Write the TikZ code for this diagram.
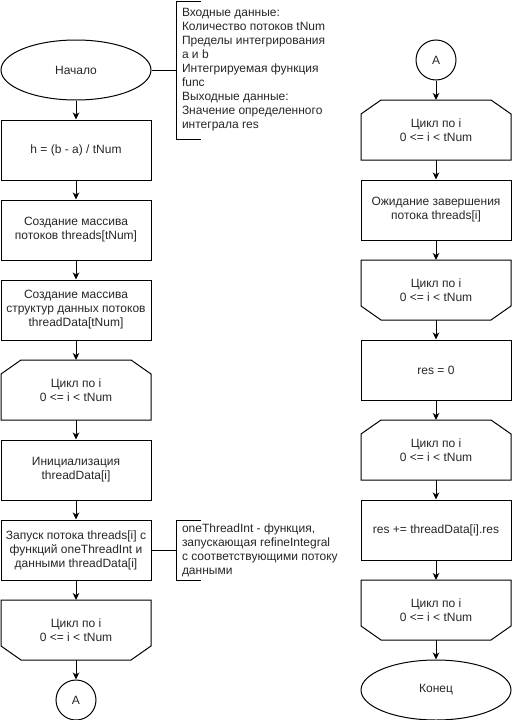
\documentclass[tikz,border=0pt]{standalone}
\usepackage{fontspec}
\setmainfont{Liberation Sans}
\usetikzlibrary{arrows.meta,calc,shapes.geometric}
\tikzset{
  lw/.style={line width=1pt},
  txt/.style={font=\fontsize{12}{14}\selectfont, align=center, text=black!85},
  proc/.style={txt, draw, lw, minimum width=150pt, minimum height=60pt, inner sep=0pt},
  loopbox/.style={txt, minimum width=150pt, minimum height=60pt, inner sep=0pt, outer sep=0pt},
  term/.style={txt, draw, lw, ellipse, minimum width=150pt, minimum height=60pt, inner sep=0pt},
  conn/.style={txt, draw, lw, circle, minimum size=40pt, inner sep=0pt},
  note/.style={txt, align=left, inner xsep=6pt, inner ysep=0pt, outer sep=0pt, anchor=west},
  arr/.style={lw, -{Stealth[length=7pt,width=6.5pt,inset=2pt]}}
}
\newcommand\loopopen[1]{\draw[lw] ($(#1.north west)+(20,0)$) -- ($(#1.north east)+(-20,0)$) -- ($(#1.north east)+(0,14)$) -- (#1.south east) -- (#1.south west) -- ($(#1.north west)+(0,14)$) -- cycle;}
\newcommand\loopclose[1]{\draw[lw] (#1.north west) -- (#1.north east) -- ($(#1.south east)+(0,-14)$) -- ($(#1.south east)+(-20,0)$) -- ($(#1.south west)+(20,0)$) -- ($(#1.south west)+(0,-14)$) -- cycle;}
\begin{document}
\begin{tikzpicture}[x=1pt,y=-1pt]
\useasboundingbox (0,0) rectangle (512,720);
% left column
\node[term] (start) at (76,70) {Начало};
\node[proc] (h) at (76,150) {h = (b - a) / tNum};
\node[proc] (arr1) at (76,230) {Создание массива\\потоков threads[tNum]};
\node[proc] (arr2) at (76,310) {Создание массива\\структур данных потоков\\threadData[tNum]};
\node[loopbox] (L1) at (76,390) {Цикл по i\\0 <= i < tNum};
\node[proc] (init) at (76,470) {Инициализация\\threadData[i]};
\node[proc] (run) at (76,550) {Запуск потока threads[i] с\\функций oneThreadInt и\\данными threadData[i]};
\node[loopbox] (L1e) at (76,630) {Цикл по i\\0 <= i < tNum};
\node[conn] (A1) at (76,700) {A};
\loopopen{L1}
\loopclose{L1e}
% right column
\node[conn] (A2) at (436,60) {A};
\node[loopbox] (L2) at (436,130) {Цикл по i\\0 <= i < tNum};
\node[proc] (wait) at (436,210) {Ожидание завершения\\потока threads[i]};
\node[loopbox] (L2e) at (436,290) {Цикл по i\\0 <= i < tNum};
\node[proc] (res0) at (436,370) {res = 0};
\node[loopbox] (L3) at (436,450) {Цикл по i\\0 <= i < tNum};
\node[proc] (acc) at (436,530) {res += threadData[i].res};
\node[loopbox] (L3e) at (436,610) {Цикл по i\\0 <= i < tNum};
\node[term] (end) at (436,690) {Конец};
\loopopen{L2}
\loopclose{L2e}
\loopopen{L3}
\loopclose{L3e}
% notes
\node[note, minimum height=138pt] (note1) at (176,70) {Входные данные:\\Количество потоков tNum\\Пределы интегрирования\\a и b\\Интегрируемая функция\\func\\Выходные данные:\\Значение определенного\\интеграла res};
\node[note, minimum height=60pt] (note2) at (176,550) {oneThreadInt - функция,\\запускающая refineIntegral\\с соответствующими потоку\\данными};
\draw[lw] ([xshift=25pt]note1.north west) -- (note1.north west) -- (note1.south west) -- ([xshift=25pt]note1.south west);
\draw[lw] ([xshift=25pt]note2.north west) -- (note2.north west) -- (note2.south west) -- ([xshift=25pt]note2.south west);
\draw[lw] (start.east) -- (note1.west);
\draw[lw] (run.east) -- (note2.west);
% arrows
\draw[arr] (start) -- (h);
\draw[arr] (h) -- (arr1);
\draw[arr] (arr1) -- (arr2);
\draw[arr] (arr2) -- (L1);
\draw[arr] (L1) -- (init);
\draw[arr] (init) -- (run);
\draw[arr] (run) -- (L1e);
\draw[arr] (L1e) -- (A1);
\draw[arr] (A2) -- (L2);
\draw[arr] (L2) -- (wait);
\draw[arr] (wait) -- (L2e);
\draw[arr] (L2e) -- (res0);
\draw[arr] (res0) -- (L3);
\draw[arr] (L3) -- (acc);
\draw[arr] (acc) -- (L3e);
\draw[arr] (L3e) -- (end);
\end{tikzpicture}
\end{document}
